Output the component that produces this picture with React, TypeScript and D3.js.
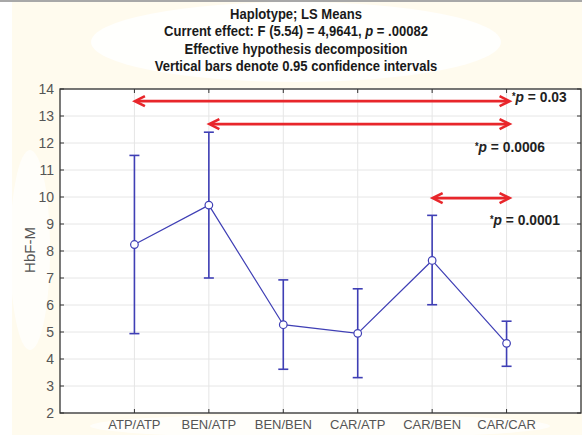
import * as d3 from 'd3';

const categories = ['ATP/ATP', 'BEN/ATP', 'BEN/BEN', 'CAR/ATP', 'CAR/BEN', 'CAR/CAR'];
const means = [8.24, 9.7, 5.27, 4.95, 7.65, 4.58];
const lower = [4.94, 7.0, 3.62, 3.31, 6.01, 3.73];
const upper = [11.54, 12.4, 6.93, 6.6, 9.32, 5.4];
const yTicks = [2, 3, 4, 5, 6, 7, 8, 9, 10, 11, 12, 13, 14];
const titleLines = [
  'Haplotype; LS Means',
  'Current effect: F (5.54) = 4,9641, |p| = .00082',
  'Effective hypothesis decomposition',
  'Vertical bars denote 0.95 confidence intervals',
];
// comparisons: from category, to category, y level, label, label position
const comparisons = [
  { from: 'ATP/ATP', to: 'CAR/CAR', y: 13.55, label: '0.03', lx: 512, ly: 13.55 },
  { from: 'BEN/ATP', to: 'CAR/CAR', y: 12.7, label: '0.0006', lx: 475, ly: 11.7 },
  { from: 'CAR/BEN', to: 'CAR/CAR', y: 9.96, label: '0.0001', lx: 490, ly: 9.0 },
];

const W = 582;
const H = 435;
const margin = { top: 89, right: 1, bottom: 22, left: 60 };

export default function App() {
  const x = d3
    .scalePoint<string>()
    .domain(categories)
    .range([margin.left, W - margin.right])
    .padding(1);
  const y = d3
    .scaleLinear()
    .domain([2, 14])
    .range([H - margin.bottom, margin.top]);

  const line = d3
    .line<number>()
    .x((_, i) => x(categories[i]) as number)
    .y((d) => y(d));

  const x0 = margin.left;
  const x1 = W - margin.right;
  const y0 = y(2);
  const y1 = y(14);
  const red = '#e8262b';
  const blue = '#3f3fb5';
  const titleFont = "'Liberation Sans', Arial, sans-serif";
  // narrow the bold face to look like the condensed print font
  const squeeze = 0.9;

  const arrowHead = (tipX: number, yy: number, dir: number) => {
    const len = 10;
    const half = 5;
    return `M${tipX + dir * len},${yy - half} L${tipX},${yy} L${tipX + dir * len},${yy + half}`;
  };

  return (
    <svg width={W} height={H} style={{ position: 'absolute', left: 0, top: 0, display: 'block' }}>
      <rect x={0} y={0} width={W} height={H} fill="#ffffff" />
      <rect x={12} y={2} width={W - 12} height={H - 2} fill="#fffbee" />
      <rect x={0} y={0} width={W} height={2} fill="#a8a8a8" />
      <ellipse cx={296} cy={42} rx={205} ry={40} fill="#ffffff" opacity={0.85} />
      <ellipse cx={30} cy={250} rx={20} ry={100} fill="#ffffff" opacity={0.7} />
      <ellipse cx={320} cy={426} rx={230} ry={12} fill="#ffffff" opacity={0.7} />

      {titleLines.map((t, i) => {
        const parts = t.split('|');
        return (
          <text
            key={i}
            transform={`translate(296,${19 + i * 17.3}) scale(${squeeze},1)`}
            textAnchor="middle"
            fontFamily={titleFont}
            fontWeight="bold"
            fontSize={14.5}
            fill="#1a1a1a"
          >
            {parts.map((p, j) => (
              <tspan key={j} fontStyle={j === 1 ? 'italic' : 'normal'}>
                {p}
              </tspan>
            ))}
          </text>
        );
      })}

      {/* plot area */}
      <rect x={x0} y={y1} width={x1 - x0} height={y0 - y1} fill="#ffffff" />
      {yTicks.map((t) => (
        <line key={'gy' + t} x1={x0} x2={x1} y1={y(t)} y2={y(t)} stroke="#e6e6e6" strokeWidth={1} />
      ))}
      {categories.map((c) => (
        <line
          key={'gx' + c}
          x1={x(c)}
          x2={x(c)}
          y1={y1}
          y2={y0}
          stroke="#e6e6e6"
          strokeWidth={1}
        />
      ))}
      <rect x={x0} y={y1} width={x1 - x0} height={y0 - y1} fill="none" stroke="#333" strokeWidth={1.3} />

      {/* ticks */}
      {yTicks.map((t) => (
        <g key={'ty' + t}>
          <line x1={x0} x2={x0 + 4} y1={y(t)} y2={y(t)} stroke="#333" />
          <line x1={x1} x2={x1 - 4} y1={y(t)} y2={y(t)} stroke="#333" />
          <text
            x={x0 - 6}
            y={y(t)}
            dy="0.35em"
            textAnchor="end"
            fontFamily="'Liberation Sans', Arial, sans-serif"
            fontSize={14}
            fill="#555"
          >
            {t}
          </text>
        </g>
      ))}
      {categories.map((c) => (
        <g key={'tx' + c}>
          <line x1={x(c)} x2={x(c)} y1={y0} y2={y0 - 4} stroke="#333" />
          <line x1={x(c)} x2={x(c)} y1={y1} y2={y1 + 4} stroke="#333" />
          <text
            x={x(c)}
            y={429}
            textAnchor="middle"
            fontFamily="'Liberation Sans', Arial, sans-serif"
            fontSize={13}
            fill="#555"
          >
            {c}
          </text>
        </g>
      ))}
      <text
        transform={`translate(35,${250}) rotate(-90)`}
        textAnchor="middle"
        fontFamily="'Liberation Sans', Arial, sans-serif"
        fontSize={15}
        fill="#555"
      >
        HbF-M
      </text>

      {/* mean line */}
      <path d={line(means) || ''} fill="none" stroke={blue} strokeWidth={1.2} />
      {categories.map((c, i) => {
        const cx = x(c) as number;
        return (
          <g key={'eb' + c} stroke={blue} strokeWidth={1.6} fill="none">
            <line x1={cx} x2={cx} y1={y(lower[i])} y2={y(upper[i])} />
            <line x1={cx - 5} x2={cx + 5} y1={y(lower[i])} y2={y(lower[i])} />
            <line x1={cx - 5} x2={cx + 5} y1={y(upper[i])} y2={y(upper[i])} />
            <circle cx={cx} cy={y(means[i])} r={3.8} strokeWidth={1.2} fill="#ffffff" />
          </g>
        );
      })}

      {/* significance arrows */}
      {comparisons.map((cmp) => {
        const ax = (x(cmp.from) as number) + 0.5;
        const bx = (x(cmp.to) as number) + 3;
        const yy = y(cmp.y);
        return (
          <g key={cmp.label}>
            <g stroke={red} strokeWidth={2.6} fill="none" strokeLinejoin="miter">
              <line x1={ax + 2} x2={bx - 2} y1={yy} y2={yy} />
              <path d={arrowHead(ax, yy, 1)} />
              <path d={arrowHead(bx, yy, -1)} />
            </g>
            <text
              transform={`translate(${cmp.lx},${y(cmp.ly)}) scale(0.92,1)`}
              dy="0.35em"
              fontFamily={titleFont}
              fontWeight="bold"
              fontSize={15}
              fill="#222"
            >
              <tspan fontSize={10} dy="-0.15em">*</tspan>
              <tspan fontStyle="italic" dy="0.15em">p</tspan>
              <tspan> = {cmp.label}</tspan>
            </text>
          </g>
        );
      })}
    </svg>
  );
}
